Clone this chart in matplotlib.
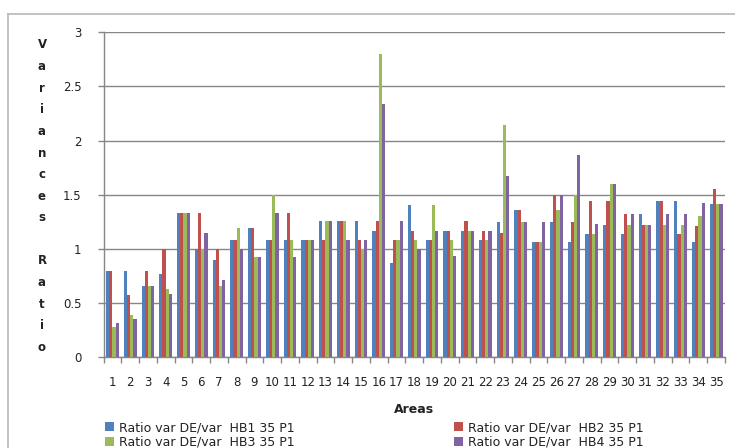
import matplotlib
matplotlib.use("Agg")
import matplotlib.pyplot as plt
import numpy as np
from matplotlib.lines import Line2D

plt.rcParams['font.family'] = ['DejaVu Sans']

areas = [str(i) for i in range(1, 36)]

hb1 = [0.79, 0.79, 0.66, 0.77, 1.33, 1.00, 0.90, 1.08, 1.19, 1.08,
       1.08, 1.08, 1.26, 1.26, 1.26, 1.165, 0.87, 1.40, 1.08, 1.165,
       1.165, 1.08, 1.245, 1.36, 1.06, 1.245, 1.06, 1.14, 1.22, 1.14,
       1.325, 1.445, 1.445, 1.06, 1.415]
hb2 = [0.79, 0.57, 0.79, 1.00, 1.33, 1.33, 1.00, 1.08, 1.19, 1.08,
       1.33, 1.08, 1.08, 1.26, 1.08, 1.26, 1.08, 1.165, 1.08, 1.165,
       1.26, 1.165, 1.15, 1.36, 1.06, 1.50, 1.245, 1.445, 1.445, 1.325,
       1.22, 1.445, 1.14, 1.21, 1.55]
hb3 = [0.28, 0.39, 0.66, 0.63, 1.33, 1.00, 0.66, 1.19, 0.92, 1.50,
       1.08, 1.08, 1.26, 1.26, 1.00, 2.80, 1.08, 1.08, 1.40, 1.08,
       1.165, 1.08, 2.14, 1.245, 1.06, 1.36, 1.50, 1.14, 1.60, 1.22,
       1.22, 1.22, 1.22, 1.30, 1.415]
hb4 = [0.31, 0.355, 0.66, 0.58, 1.33, 1.15, 0.71, 1.00, 0.92, 1.33,
       0.92, 1.08, 1.26, 1.08, 1.08, 2.34, 1.26, 1.00, 1.165, 0.93,
       1.165, 1.165, 1.67, 1.245, 1.245, 1.50, 1.87, 1.23, 1.60, 1.325,
       1.22, 1.325, 1.325, 1.42, 1.415]

series = [hb1, hb2, hb3, hb4]
labels = ["Ratio var DE/var  HB1 35 P1", "Ratio var DE/var  HB2 35 P1",
          "Ratio var DE/var  HB3 35 P1", "Ratio var DE/var  HB4 35 P1"]
colors = ["#4F81BD", "#C0504D", "#9BBB59", "#8064A2"]
ylabel = "Variances Ratio"

W, H = 735, 448
fig = plt.figure(figsize=(W / 100, H / 100), dpi=100)
fig.patch.set_facecolor("white")

# chart-area frame (top and left edges visible)
fig.add_artist(Line2D([8 / W, 1.0], [1 - 14 / H, 1 - 14 / H],
                      transform=fig.transFigure, color="#b8b8b8", lw=1.2))
fig.add_artist(Line2D([8 / W, 8 / W], [0, 1 - 14 / H],
                      transform=fig.transFigure, color="#b8b8b8", lw=1.2))

ax = fig.add_axes([103.5 / W, 1 - 357 / H, (725 - 103.5) / W, (357 - 32.3) / H])

n = len(areas)
x = np.arange(n)
bw = 0.18
for i, (vals, col, lab) in enumerate(zip(series, colors, labels)):
    ax.bar(x + (i - 1.5) * bw, vals, width=bw, color=col, label=lab, zorder=3)

ax.set_xlim(-0.5, n - 0.5)
ax.set_ylim(0, 3)
ax.set_yticks(np.arange(0, 3.01, 0.5))
ax.set_yticklabels(["0", "0.5", "1", "1.5", "2", "2.5", "3"])
ax.yaxis.grid(True, color="#868686", lw=1.0, zorder=0)
ax.set_axisbelow(True)

ax.set_xticks(x)
ax.set_xticklabels(areas)
ax.set_xticks(np.arange(-0.5, n, 1.0), minor=True)
ax.tick_params(axis="x", which="major", length=0, pad=14, labelsize=8.5,
               labelcolor="#222222")
ax.tick_params(axis="x", which="minor", length=4, color="#868686", width=1)
ax.tick_params(axis="y", length=4, color="#868686", width=1, pad=12, labelsize=8.5,
               labelcolor="#222222")

for s in ["top", "right"]:
    ax.spines[s].set_visible(False)
for s in ["left", "bottom"]:
    ax.spines[s].set_color("#868686")
    ax.spines[s].set_linewidth(1.0)

ax.set_xlabel("Areas", fontsize=9, fontweight="bold", labelpad=10, color="#222222")

# vertical stacked axis title, one letter per line
top_px, step_px = 45, 21.6
for k, ch in enumerate(ylabel):
    if ch != " ":
        fig.text(42 / W, 1 - (top_px + k * step_px) / H, ch, ha="center", va="center",
                 fontsize=8.5, fontweight="bold", color="#222222")

handles, labs = ax.get_legend_handles_labels()
order = [0, 2, 1, 3]
fig.legend([handles[i] for i in order], [labs[i] for i in order],
           ncol=2, loc="upper left", bbox_to_anchor=(105 / W, 1 - 421 / H),
           frameon=False, fontsize=9, handlelength=0.7, handleheight=0.7,
           handletextpad=0.4, columnspacing=12.8, labelspacing=0.12,
           borderaxespad=0, borderpad=0, labelcolor="#222222")

fig.savefig("out.png", dpi=100)
